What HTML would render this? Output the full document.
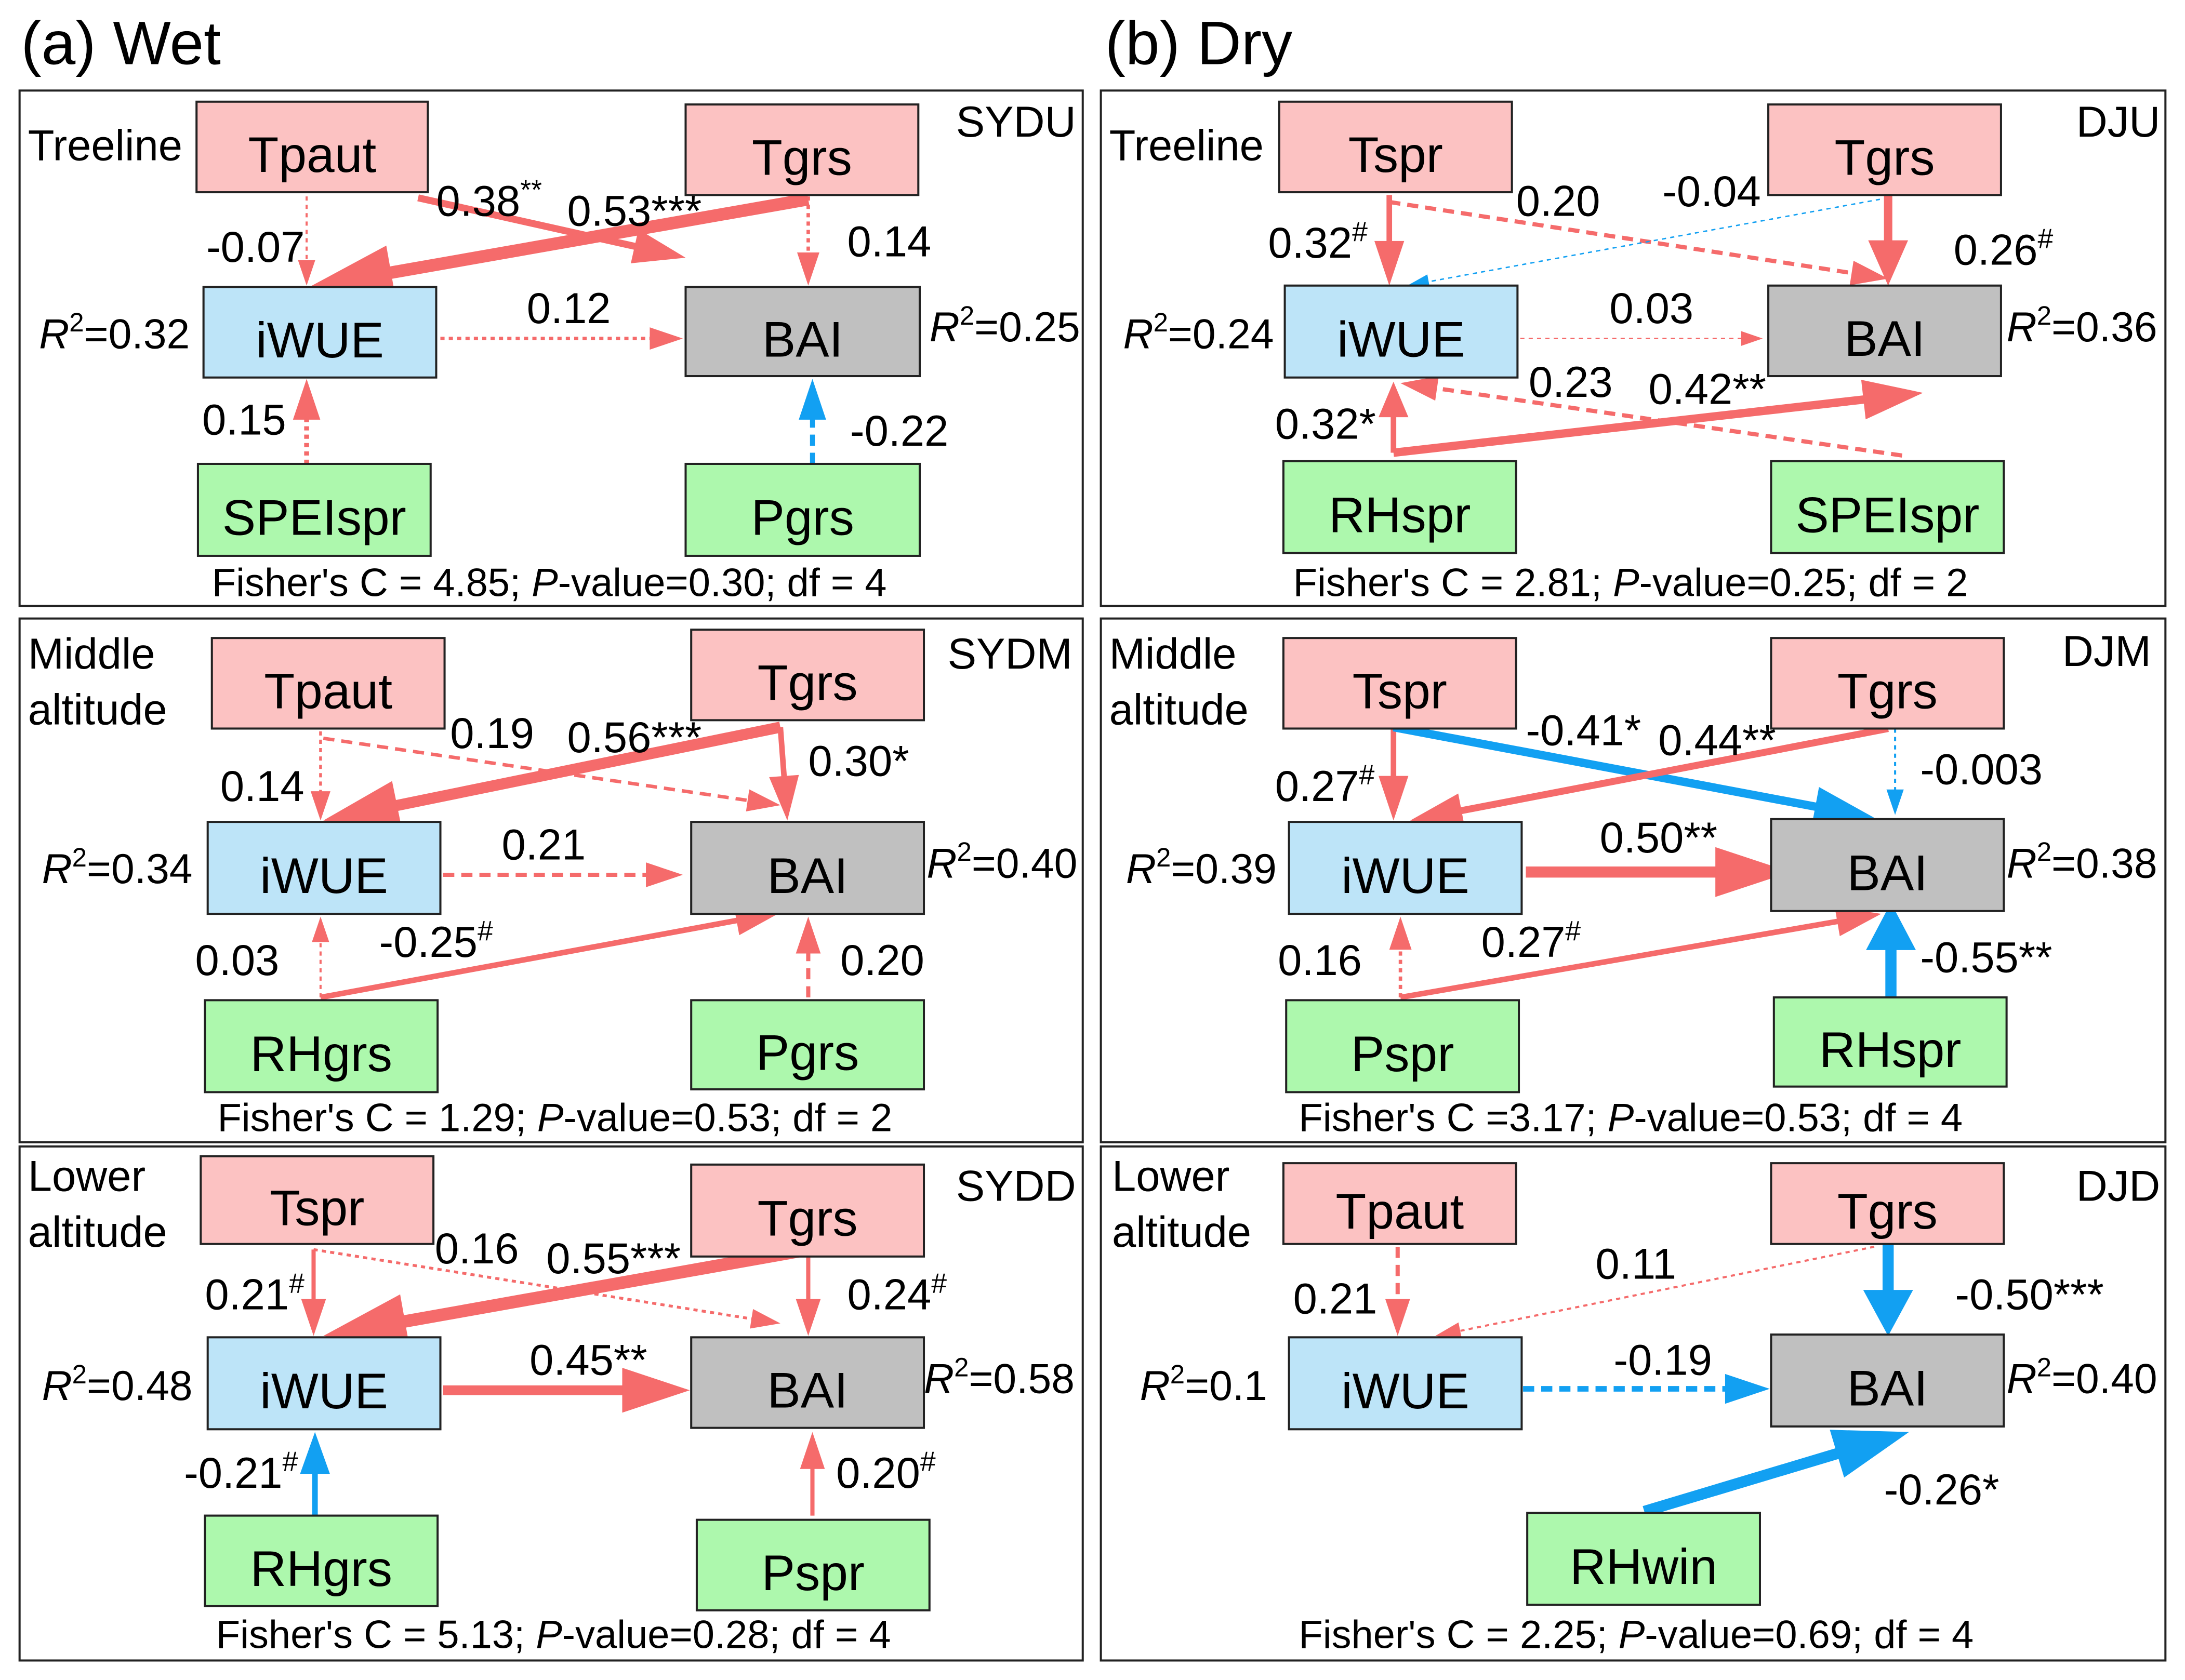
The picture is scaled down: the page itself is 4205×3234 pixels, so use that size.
<!DOCTYPE html>
<html><head><meta charset="utf-8"><style>
html,body{margin:0;padding:0;background:#fff;}
svg{display:block;}
text{font-family:"Liberation Sans",Arial,sans-serif;fill:#000;}
</style></head>
<body>
<svg id="fig" width="4205" height="3234" viewBox="0 0 1568 1206" xmlns="http://www.w3.org/2000/svg">
<text x="15" y="46" font-size="44">(a) Wet</text>
<text x="793" y="46" font-size="44">(b) Dry</text>
</svg>
<script>
const NS='http://www.w3.org/2000/svg';
const svg=document.getElementById('fig');
const RED='#f56b6b', BLUE='#12a0f2';
const FILL={t:'#fcc2c2',w:'#bde4f8',b:'#c0c0c0',g:'#adf8ad'};

const panelIds=['sydu','sydm','sydd','dju','djm','djd'];
const panelRects=[[14,65,763,370],[14,444,763,376],[14,823,763,369],[790,65,764,370],[790,444,764,376],[790,823,764,369]];
const siteLabels=[['SYDU',686,98],['SYDM',680,480],['SYDD',686,862],['DJU',1490,98],['DJM',1480,478],['DJD',1490,862]];
const altLabels=[['Treeline','',20,115],['Middle','altitude',20,480],['Lower','altitude',20,855],['Treeline','',796,115],['Middle','altitude',796,480],['Lower','altitude',798,855]];
const r2Values=[['0.32',28,250,'0.25',667,245],['0.34',30,634,'0.40',665,630],['0.48',30,1005,'0.58',663,1000],
 ['0.24',806,250,'0.36',1440,245],['0.39',808,634,'0.38',1440,630],['0.1',818,1005,'0.40',1440,1000]];
const fisherTexts=[["Fisher's C = 4.85; ","P","-value=0.30; df = 4",152,428],["Fisher's C = 1.29; ","P","-value=0.53; df = 2",156,812],
 ["Fisher's C = 5.13; ","P","-value=0.28; df = 4",155,1183],["Fisher's C = 2.81; ","P","-value=0.25; df = 2",928,428],
 ["Fisher's C =3.17; ","P","-value=0.53; df = 4",932,812],["Fisher's C = 2.25; ","P","-value=0.69; df = 4",932,1183]];

const nodes=[
 ['Tpaut','t',141,73,307,138],['Tgrs','t',492,75,659,140],['iWUE','w',146,206,313,271],['BAI','b',492,206,660,270],['SPEIspr','g',142,333,309,399],['Pgrs','g',492,333,660,399],
 ['Tpaut','t',152,458,319,523],['Tgrs','t',496,452,663,517],['iWUE','w',149,590,316,656],['BAI','b',496,590,663,656],['RHgrs','g',147,718,314,784],['Pgrs','g',496,718,663,782],
 ['Tspr','t',144,830,311,893],['Tgrs','t',496,836,663,902],['iWUE','w',149,960,316,1026],['BAI','b',496,960,663,1025],['RHgrs','g',147,1088,314,1153],['Pspr','g',500,1091,667,1156],
 ['Tspr','t',918,73,1085,138],['Tgrs','t',1269,75,1436,140],['iWUE','w',922,205,1089,271],['BAI','b',1269,205,1436,270],['RHspr','g',921,331,1088,397],['SPEIspr','g',1271,331,1438,397],
 ['Tspr','t',921,458,1088,523],['Tgrs','t',1271,458,1438,523],['iWUE','w',925,590,1092,656],['BAI','b',1271,588,1438,654],['Pspr','g',923,718,1090,784],['RHspr','g',1273,716,1440,780],
 ['Tpaut','t',921,835,1088,893],['Tgrs','t',1271,835,1438,893],['iWUE','w',925,960,1092,1026],['BAI','b',1271,958,1438,1024],['RHwin','g',1096,1086,1263,1152]
];
const nodePanel=[0,0,0,0,0,0,1,1,1,1,1,1,2,2,2,2,2,2,3,3,3,3,3,3,4,4,4,4,4,4,5,5,5,5,5];

const coefLabels=['-0.07','0.38^**','0.53***','0.14','0.12','0.15','-0.22',
 '0.14','0.19','0.56***','0.30*','0.21','0.03','-0.25^#','0.20',
 '0.21^#','0.16','0.55***','0.24^#','0.45**','-0.21^#','0.20^#',
 '0.32^#','0.20','-0.04','0.26^#','0.03','0.32*','0.42**','0.23',
 '0.27^#','-0.41*','0.44**','-0.003','0.50**','0.16','0.27^#','-0.55**',
 '0.21','0.11','-0.50***','-0.19','-0.26*'];
const coefLabelPos=[[148,188],[313,155],[407,162],[608,184],[378,232],[145,312],[610,320],
 [158,575],[323,537],[407,540],[580,557],[360,617],[140,700],[272,687],[603,700],
 [147,940],[312,907],[392,914],[608,940],[380,987],[132,1068],[600,1068],
 [910,185],[1088,155],[1193,148],[1402,190],[1155,232],[915,315],[1183,290],[1097,285],
 [915,575],[1095,535],[1190,542],[1378,563],[1148,612],[917,700],[1063,687],[1378,698],
 [928,943],[1145,918],[1403,940],[1158,987],[1352,1080]];
const arrows=[[220,141,220,205,1.5,0,2],[300,142,492,185,5,0,0],[580,143,222,206,9,0,0],[580,141,580,205,2.5,0,2],[316,243,490,243,2.5,0,2],[220,333,220,272,3.5,0,2],[583,333,583,272,3.5,1,1],
 [230,525,230,589,2,0,2],[232,530,560,578,2.5,0,1],[560,522,232,589,8,0,0],[560,522,565,589,4,0,0],[318,628,490,628,3,0,1],[230,716,230,658,1.5,0,2],[230,716,560,655,4,0,0],[580,716,580,658,3,0,1],
 [225,897,225,959,3,0,0],[225,897,560,950,2,0,2],[580,897,232,959,9,0,0],[580,900,580,959,3,0,0],[318,998,495,998,7,0,0],[226,1088,226,1028,4,1,0],[583,1088,583,1028,3,0,0],
 [997,140,997,205,4,0,0],[997,145,1355,200,3,0,1],[1355,142,1010,205,1,1,2],[1355,140,1355,205,6,0,0],[1091,243,1265,243,1,0,2],[1000,325,1000,274,4,0,0],[1000,325,1380,282,6,0,0],[1365,327,1005,275,3,0,1],
 [1000,523,1000,589,4,0,0],[1000,522,1345,587,6,1,0],[1355,523,1012,589,5,0,0],[1360,523,1360,585,1.5,1,2],[1095,626,1285,626,8,0,0],[1005,716,1005,658,2.5,0,2],[1005,716,1350,656,4,0,0],[1357,716,1357,648,8,1,0],
 [1003,895,1003,959,3,0,1],[1345,895,1030,959,1.5,0,2],[1355,893,1355,959,8,1,0],[1093,997,1270,997,4,1,1],[1180,1085,1370,1028,8,1,0]];

function el(tag,attrs,parent){const e=document.createElementNS(NS,tag);for(const k in attrs)e.setAttribute(k,attrs[k]);(parent||svg).appendChild(e);return e;}

panelRects.forEach((p,i)=>{
 const r=el('rect',{x:p[0],y:p[1],width:p[2],height:p[3],fill:'none',stroke:'#222','stroke-width':1.5});
 
 
 const s=siteLabels[i];
 const st=el('text',{x:s[1],y:s[2],'font-size':31});st.textContent=s[0];
 
 
 const a=altLabels[i];
 const at=el('text',{x:a[2],y:a[3],'font-size':31});at.textContent=a[0];
 
 
 if(a[1]){const at2=el('text',{x:a[2],y:a[3]+40,'font-size':31});at2.textContent=a[1];
  
  }
 const rv=r2Values[i];
 [[rv[0],rv[1],rv[2]],[rv[3],rv[4],rv[5]]].forEach((q,j)=>{
  const t=el('text',{x:q[1],y:q[2],'font-size':30});
  
  
  const a1=el('tspan',{'font-style':'italic'},t);a1.textContent='R';
  const a2=el('tspan',{dy:-12,'font-size':19},t);a2.textContent='2';
  const a3=el('tspan',{dy:12},t);a3.textContent='='+q[0];
 });
 const f=fisherTexts[i];
 const ft=el('text',{x:f[3],y:f[4],'font-size':28.3});
 
 
 const b1=el('tspan',{},ft);b1.textContent=f[0];
 const b2=el('tspan',{'font-style':'italic'},ft);b2.textContent=f[1];
 const b3=el('tspan',{},ft);b3.textContent=f[2];
});

arrows.forEach((a,i)=>{
 const [x1,y1,x2,y2,w,c,s]=a;const col=c?BLUE:RED;
 const dx=x2-x1,dy=y2-y1,L=Math.hypot(dx,dy),ux=dx/L,uy=dy/L;
 const hl=Math.min(10+5.5*w,L*0.5),hw=7+3.6*w;
 const bx=x2-ux*hl,by=y2-uy*hl;
 const g=el('g',{});
 
 
 const dash=s===1?'8,5':(s===2?'3,3':'none');
 el('line',{x1:x1,y1:y1,x2:bx+ux,y2:by+uy,stroke:col,'stroke-width':w,'stroke-dasharray':dash},g);
 el('polygon',{points:`${x2},${y2} ${bx-uy*hw/2},${by+ux*hw/2} ${bx+uy*hw/2},${by-ux*hw/2}`,fill:col},g);
 const lp=coefLabelPos[i];const parts=coefLabels[i].split('^');
 const t=el('text',{x:lp[0],y:lp[1],'font-size':31});
 
 
 const t1=el('tspan',{},t);t1.textContent=parts[0];
 if(parts[1]){const t2=el('tspan',{dy:-12,'font-size':20},t);t2.textContent=parts[1];}
});

nodes.forEach((n,i)=>{
 const g=el('g',{});
 
 
 el('rect',{x:n[2],y:n[3],width:n[4]-n[2],height:n[5]-n[3],fill:FILL[n[1]],stroke:'#222','stroke-width':1.5},g);
 const t=el('text',{x:(n[2]+n[4])/2,y:(n[3]+n[5])/2+18,'font-size':36,'text-anchor':'middle'},g);
 t.textContent=n[0];
});
</script>
</body></html>
